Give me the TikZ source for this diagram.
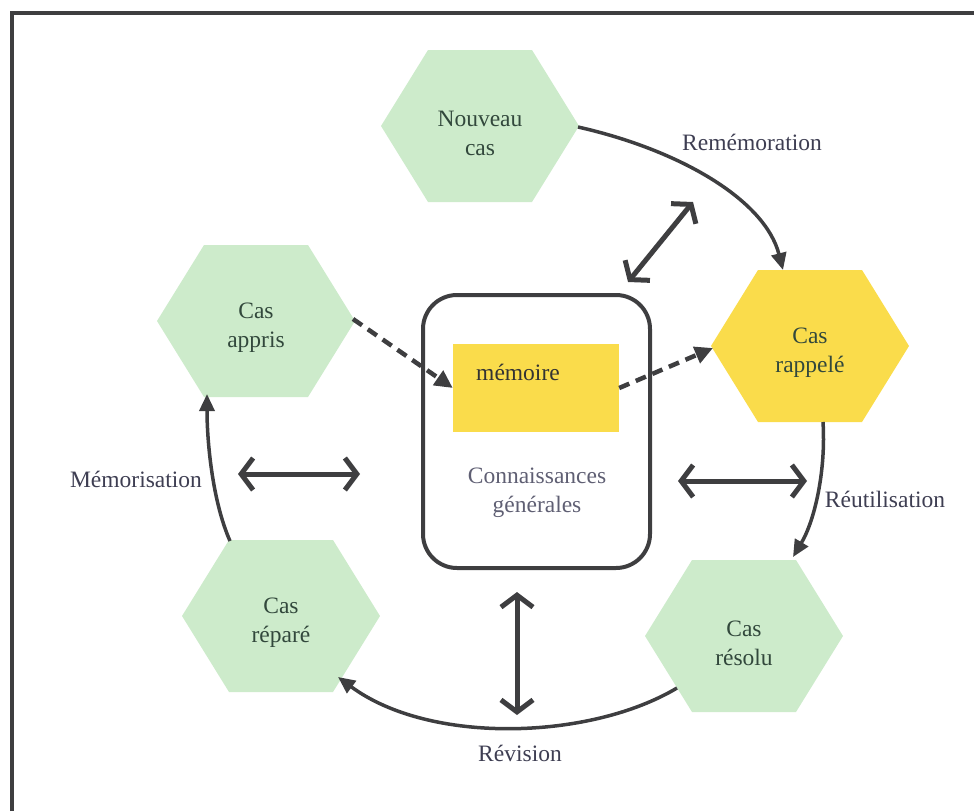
\documentclass[tikz,border=0pt]{standalone}
\usepackage{fontspec}
\setmainfont{Liberation Serif}
\newfontfamily\garfont{Liberation Serif}
\usetikzlibrary{arrows.meta,calc}
\definecolor{hexgreen}{RGB}{205,235,203}
\definecolor{hexyellow}{RGB}{250,220,75}
\definecolor{linegray}{RGB}{62,62,64}
\definecolor{hextext}{RGB}{50,72,60}
\definecolor{labtext}{RGB}{62,62,82}
\definecolor{kntext}{RGB}{95,95,115}
\newcommand\hexfill[2]{\fill[#2] ($(#1)+(-99,0)$) -- ($(#1)+(-52,-76)$) -- ($(#1)+(52,-76)$) -- ($(#1)+(99,0)$) -- ($(#1)+(52,76)$) -- ($(#1)+(-52,76)$) -- cycle;}
\begin{document}
\begin{tikzpicture}[x=1pt,y=-1pt,
  txt/.style={font=\garfont\fontsize{23.5}{29}\selectfont, align=center, inner sep=0pt},
  hextxt/.style={txt, text=hextext},
  lab/.style={txt, text=labtext},
  cyc/.style={draw=linegray, line width=3.5pt, -{Triangle[length=17pt,width=15pt]}},
  dbl/.style={draw=linegray, line width=5pt, {Straight Barb[length=12pt,width=32pt]}-{Straight Barb[length=12pt,width=32pt]}},
  dsh/.style={draw=linegray, line width=4.5pt, dash pattern=on 11pt off 7pt, -{Triangle[length=18pt,width=17pt]}},
  frame/.style={draw=linegray, line width=4pt}
]
\useasboundingbox (0,0) rectangle (974,811);
% frame
\draw[frame] (12,811) -- (12,13) -- (974,13);
% hexagon centres
\coordinate (ncC) at (480,126);
\coordinate (caC) at (256,321);
\coordinate (crC) at (810,346);
\coordinate (rsC) at (744,636);
\coordinate (rpC) at (281,616);
\hexfill{ncC}{hexgreen}
\hexfill{caC}{hexgreen}
\hexfill{crC}{hexyellow}
\hexfill{rsC}{hexgreen}
\hexfill{rpC}{hexgreen}
\node[hextxt] (nc) at ($(ncC)+(0,7)$) {Nouveau\\cas};
\node[hextxt] (ca) at ($(caC)+(0,7)$) {Cas\\appris};
\node[hextxt] (cr) at ($(crC)+(0,7)$) {Cas\\rappelé};
\node[hextxt] (rs) at ($(rsC)+(0,7)$) {Cas\\résolu};
\node[hextxt] (rp) at ($(rpC)+(0,7)$) {Cas\\réparé};
% central box
\node[draw=linegray, line width=4pt, rounded corners=34pt, minimum width=227pt, minimum height=273pt, inner sep=0pt] (kb) at (536.5,431.5) {};
\node[fill=hexyellow, minimum width=166pt, minimum height=88pt, inner sep=0pt] (mem) at (536,388) {};
\node[txt, text=black!80] (memtxt) at (518,372) {mémoire};
\node[txt, text=kntext] (kn) at (537,493) {Connaissances\\générales};
% cycle arrows
\draw[cyc] ($(ncC)+(98,1)$) .. controls (680,150) and (765,200) .. ($(crC)+(-27,-76)$);
\draw[cyc] ($(crC)+(13,76)$) .. controls (826,470) and (815,520) .. ($(rsC)+(49,-79)$);
\draw[cyc] ($(rsC)+(-67,52)$) .. controls (590,740) and (430,745) .. ($(rpC)+(57,61)$);
\draw[cyc] ($(rpC)+(-51,-75)$) .. controls (212,500) and (207,440) .. ($(caC)+(-49,73)$);
% labels
\node[lab] (l1) at (752,142) {Remémoration};
\node[lab] (l2) at (885,499) {Réutilisation};
\node[lab] (l3) at (520,753) {Révision};
\node[lab] (l4) at (136,479) {Mémorisation};
% double arrows
\coordinate (t1) at (628,282); \coordinate (t2) at (693,202);
\coordinate (lf1) at (238,474); \coordinate (lf2) at (360,474);
\coordinate (r1) at (678,481); \coordinate (r2) at (807,481);
\coordinate (b1) at (517,592); \coordinate (b2) at (517,715);
\draw[dbl] (t1) -- (t2);
\draw[dbl] (lf1) -- (lf2);
\draw[dbl] (r1) -- (r2);
\draw[dbl] (b1) -- (b2);
% dashed arrows
\draw[dsh] ($(caC)+(97,-2)$) -- (mem.west);
\draw[dsh] (mem.east) -- ($(crC)+(-97,2)$);
\end{tikzpicture}
\end{document}
